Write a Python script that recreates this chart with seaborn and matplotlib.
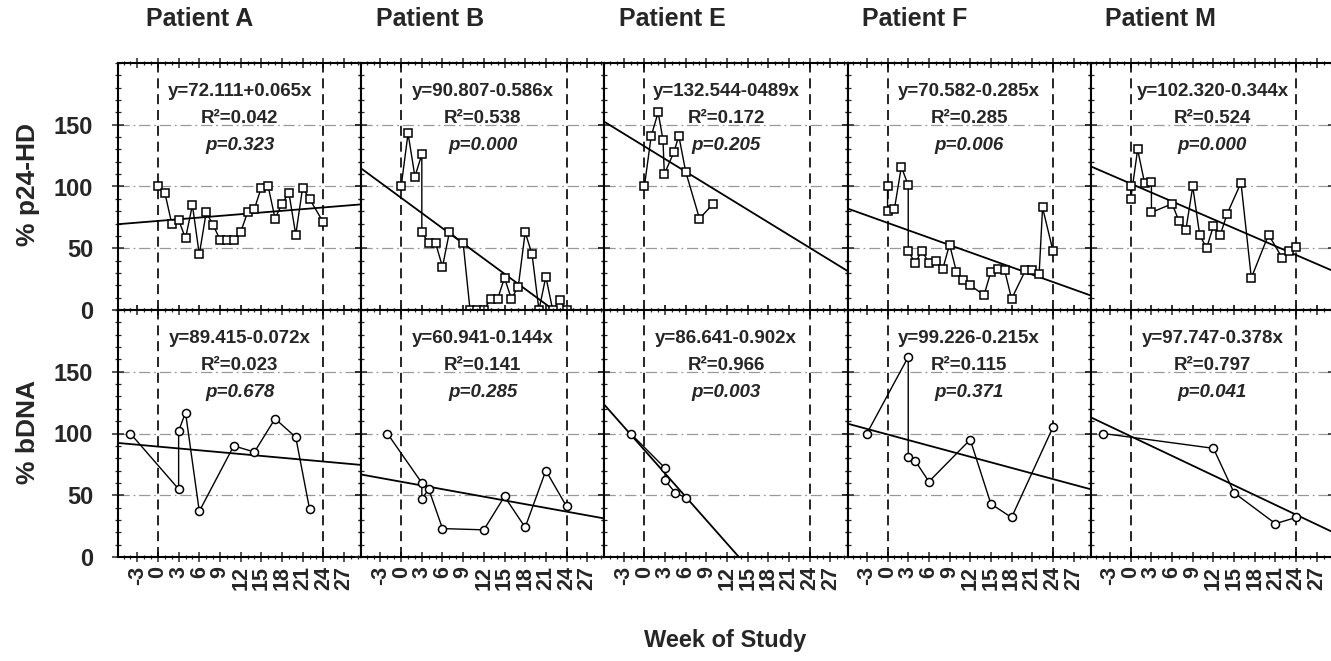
import matplotlib
matplotlib.use("Agg")
import numpy as np
import pandas as pd
import seaborn as sns
import matplotlib.pyplot as plt
from matplotlib.ticker import MultipleLocator

# ---------------- data ----------------
patients = ["A", "B", "E", "F", "M"]

# % p24-HD (top row), weeks of study
a_p24_wk = [0, 1, 2, 3, 4, 5, 6, 7, 8, 9, 10, 11, 12, 13, 14, 15, 16, 17, 18, 19, 20, 21, 22, 24]
a_p24 = [100, 95, 70, 73, 58, 85, 45, 79, 69, 57, 57, 57, 63, 79, 82, 99, 100, 74, 86, 95, 61, 99, 90, 71]
b_p24_wk = [0, 1, 2, 3, 3, 4, 5, 6, 7, 9, 10, 11, 12, 13, 14, 15, 16, 17, 18, 19, 20, 21, 22, 23, 24]
b_p24 = [100, 143, 108, 126, 63, 54, 54, 35, 63, 54, 0, 0, 0, 9, 9, 26, 9, 19, 63, 45, 0, 27, 0, 8, 0]
e_p24_wk = [0, 1, 2, 2.7, 2.9, 4.3, 5, 6, 8, 10]
e_p24 = [100, 141, 160, 138, 110, 128, 141, 112, 74, 86]
f_p24_wk = [0, 0, 1, 2, 3, 3, 4, 5, 6, 7, 8, 9, 10, 11, 12, 14, 15, 16, 17, 18, 20, 21, 22, 22.5, 24]
f_p24 = [100, 80, 82, 116, 101, 48, 38, 48, 38, 40, 33, 53, 31, 24, 20, 12, 31, 33, 32, 9, 32, 32, 29, 83, 48]
m_p24_wk = [0, 0, 1, 2, 3, 3, 6, 7, 8, 9, 10, 11, 12, 13, 14, 16, 17.5, 20, 22, 23, 24]
m_p24 = [100, 90, 130, 103, 104, 79, 86, 72, 65, 100, 61, 50, 68, 61, 78, 103, 26, 61, 42, 48, 51]

# % bDNA (bottom row)
a_bdna_wk = [-4, 3, 3, 4, 6, 11, 14, 17, 20, 22]
a_bdna = [100, 55, 102, 117, 37, 90, 85, 112, 97, 39]
b_bdna_wk = [-2, 3, 3, 4, 6, 12, 15, 18, 21, 24]
b_bdna = [100, 60, 47, 55, 23, 22, 49, 24, 70, 41]
e_bdna_wk = [-2, 3, 3, 4.5, 6]
e_bdna = [100, 72, 62, 52, 48]
f_bdna_wk = [-3, 3, 3, 4, 6, 12, 15, 18, 24]
f_bdna = [100, 162, 81, 78, 61, 95, 43, 32, 105]
m_bdna_wk = [-4, 12, 15, 21, 24]
m_bdna = [100, 88, 52, 27, 32]

# regression results (slope per day)
p24_intercepts = [72.111, 90.807, 132.544, 70.582, 102.320]
p24_slopes = [0.065, -0.586, -0.489, -0.285, -0.344]
p24_eq = ["y=72.111+0.065x", "y=90.807-0.586x", "y=132.544-0489x", "y=70.582-0.285x", "y=102.320-0.344x"]
p24_r2 = ["0.042", "0.538", "0.172", "0.285", "0.524"]
p24_p = ["0.323", "0.000", "0.205", "0.006", "0.000"]

bdna_intercepts = [89.415, 60.941, 86.641, 99.226, 97.747]
bdna_slopes = [-0.072, -0.144, -0.902, -0.215, -0.378]
bdna_eq = ["y=89.415-0.072x", "y=60.941-0.144x", "y=86.641-0.902x", "y=99.226-0.215x", "y=97.747-0.378x"]
bdna_r2 = ["0.023", "0.141", "0.966", "0.115", "0.797"]
bdna_p = ["0.678", "0.285", "0.003", "0.371", "0.041"]

week_ticks = [-3, 0, 3, 6, 9, 12, 15, 18, 21, 24, 27]
y_ticks = [0, 50, 100, 150]
study_window = [0, 24]
days_per_week = 7

p24_series = [(a_p24_wk, a_p24), (b_p24_wk, b_p24), (e_p24_wk, e_p24), (f_p24_wk, f_p24), (m_p24_wk, m_p24)]
bdna_series = [(a_bdna_wk, a_bdna), (b_bdna_wk, b_bdna), (e_bdna_wk, e_bdna), (f_bdna_wk, f_bdna), (m_bdna_wk, m_bdna)]

# ---------------- style ----------------
sns.set_style("white")
plt.rcParams["font.family"] = ["Liberation Sans", "DejaVu Sans"]
plt.rcParams["font.weight"] = "bold"

W, H = 1331, 661
fig = plt.figure(figsize=(W / 100, H / 100), dpi=100)
left0, pw, top0, rh = 118, 243.2, 63, 247
xlim = (-5.8, 29.5)
xfit = np.array(xlim)

rows = [
    (p24_series, p24_intercepts, p24_slopes, p24_eq, p24_r2, p24_p, "s", 6.3),
    (bdna_series, bdna_intercepts, bdna_slopes, bdna_eq, bdna_r2, bdna_p, "o", 5.8),
]

for r, (series, icpts, slopes, eqs, r2s, ps, mk, ms) in enumerate(rows):
    for c in range(5):
        rect = [(left0 + c * pw) / W, 1 - (top0 + (r + 1) * rh) / H, pw / W, rh / H]
        ax = fig.add_axes(rect)
        ax.set_xlim(*xlim)
        ax.set_ylim(0, 200)

        # grid & study window
        ax.grid(True, axis="y", which="major", ls=(0, (9, 3, 1.5, 3)), color="0.6", lw=0.9)
        for wv in study_window:
            ax.axvline(wv, color="black", ls=(0, (6, 3.5)), lw=1.2, zorder=2)

        # regression line
        fit_df = pd.DataFrame({"week": xfit, "val": icpts[c] + slopes[c] * days_per_week * xfit})
        sns.lineplot(data=fit_df, x="week", y="val", ax=ax, color="black", lw=1.3,
                     estimator=None, sort=False, zorder=3)

        # observed data
        wk, vals = series[c]
        df = pd.DataFrame({"week": wk, "val": vals})
        sns.lineplot(data=df, x="week", y="val", ax=ax, color="black", lw=1.0,
                     estimator=None, sort=False, marker=mk, markersize=ms,
                     markerfacecolor="white", markeredgecolor="black", markeredgewidth=1.1,
                     zorder=4, clip_on=True)

        # annotations
        ax.text(0.5, 0.885, eqs[c], transform=ax.transAxes, ha="center", va="center",
                fontsize=13.5, fontweight="bold", zorder=6)
        ax.text(0.5, 0.775, "R\u00b2=" + r2s[c], transform=ax.transAxes, ha="center", va="center",
                fontsize=13.5, fontweight="bold", zorder=6)
        ax.text(0.5, 0.665, "p=" + ps[c], transform=ax.transAxes, ha="center", va="center",
                fontsize=13.5, fontweight="bold", fontstyle="italic", zorder=6)

        # ticks
        ax.set_xticks(week_ticks)
        ax.xaxis.set_minor_locator(MultipleLocator(1))
        ax.set_yticks(y_ticks)
        ax.yaxis.set_minor_locator(MultipleLocator(10))
        ax.tick_params(axis="x", which="major", top=True, bottom=True, direction="inout",
                       length=7, width=1.1, labelsize=15.5, pad=3)
        ax.tick_params(axis="x", which="minor", top=True, bottom=True, direction="inout",
                       length=3.5, width=0.9)
        ax.tick_params(axis="y", which="major", left=True, right=True, direction="inout",
                       length=8, width=1.1, labelsize=17, pad=14)
        ax.tick_params(axis="y", which="minor", left=True, right=True, direction="inout",
                       length=4, width=0.9)
        if r == 1:
            ax.set_xticklabels([str(t) for t in week_ticks], rotation=90, fontweight="bold")
        else:
            ax.set_xticklabels([])
        if c == 0:
            ax.set_yticklabels([str(t) for t in y_ticks], fontweight="bold")
        else:
            ax.set_yticklabels([])
        ax.set_xlabel("")
        ax.set_ylabel("")
        for sp in ax.spines.values():
            sp.set_linewidth(1.5)
            sp.set_color("black")

        if r == 0:
            tx = 0.115 if c == 0 else 0.06
            ax.text(tx, 1.18, "Patient " + patients[c], transform=ax.transAxes, ha="left",
                    va="center", fontsize=18, fontweight="bold")

fig.text(28 / W, 1 - 184 / H, "% p24-HD", rotation=90, ha="center", va="center",
         fontsize=19, fontweight="bold")
fig.text(28 / W, 1 - 432 / H, "% bDNA", rotation=90, ha="center", va="center",
         fontsize=19, fontweight="bold")
fig.text(725 / W, 1 - 640 / H, "Week of Study", ha="center", va="center",
         fontsize=17, fontweight="bold")

fig.savefig("out.png", dpi=100)
